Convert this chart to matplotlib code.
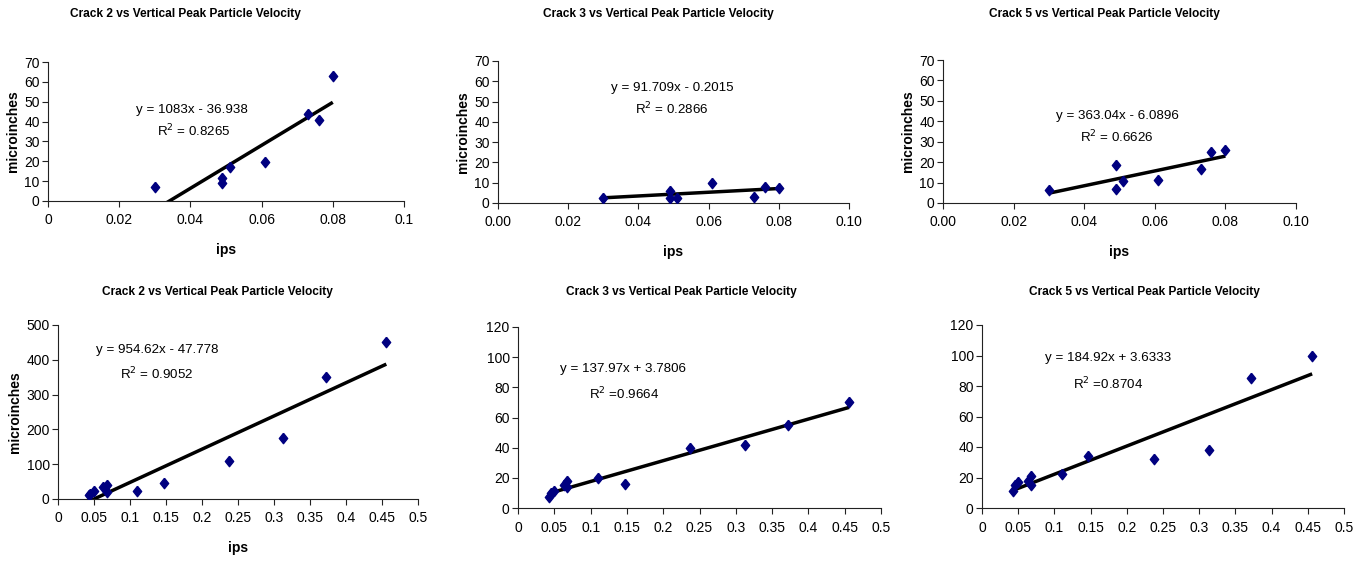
import numpy as np
import matplotlib
matplotlib.use("Agg")
import matplotlib.pyplot as plt
from matplotlib.ticker import FormatStrFormatter

plt.rcParams['font.family'] = ['Liberation Sans', 'DejaVu Sans']

W, H = 1371, 564

# --- data ---
ppv_small = [0.030, 0.049, 0.049, 0.051, 0.061, 0.073, 0.076, 0.080]
crack2_small = [7, 9, 11.5, 17, 19.5, 44, 41, 63]
crack3_small = [2.5, 6, 2.5, 2.5, 10, 3, 8, 7.5]
crack5_small = [6.5, 18.5, 7, 11, 11.5, 16.5, 25, 26]

ppv_large = [0.043, 0.045, 0.050, 0.063, 0.068, 0.068, 0.110, 0.147,
             0.237, 0.313, 0.372, 0.456]
crack2_large = [12, 15, 22, 35, 40, 20, 23, 47, 110, 175, 350, 450]
crack3_large = [7, 10, 11, 15, 18, 14, 20, 16, 40, 42, 55, 70]
crack5_large = [11, 15, 17, 18, 21, 15, 22, 34, 32, 38, 85, 100]

titles = ["Crack 2 vs Vertical Peak Particle Velocity",
          "Crack 3 vs Vertical Peak Particle Velocity",
          "Crack 5 vs Vertical Peak Particle Velocity"] * 2
slopes = [1083, 91.709, 363.04, 954.62, 137.97, 184.92]
intercepts = [-36.938, -0.2015, -6.0896, -47.778, 3.7806, 3.6333]
equations = ["y = 1083x - 36.938", "y = 91.709x - 0.2015", "y = 363.04x - 6.0896",
             "y = 954.62x - 47.778", "y = 137.97x + 3.7806", "y = 184.92x + 3.6333"]
r_squared = ["R$^2$ = 0.8265", "R$^2$ = 0.2866", "R$^2$ = 0.6626",
             "R$^2$ = 0.9052", "R$^2$ =0.9664", "R$^2$ =0.8704"]

panels = [
    (ppv_small, crack2_small), (ppv_small, crack3_small), (ppv_small, crack5_small),
    (ppv_large, crack2_large), (ppv_large, crack3_large), (ppv_large, crack5_large),
]

# layout in pixels: left, right, top, bottom of each plot area
boxes = [(48, 404, 62, 201), (498, 849, 61, 203), (943, 1296, 60, 203),
         (58, 418, 325, 499), (518, 881, 327, 508), (982, 1344, 325, 508)]
title_pos = [(185, 14), (658, 14), (1104, 14), (217, 292), (681, 292), (1144, 292)]
eq_pos = [(192, 110), (672, 88), (1117, 116), (157, 350), (623, 369), (1108, 358)]
r2_pos = [(194, 131), (672, 109), (1117, 137), (157, 374), (624, 394), (1108, 384)]
ylims = [70, 70, 70, 500, 120, 120]
ysteps = [10, 10, 10, 100, 20, 20]
xlims = [0.1, 0.1, 0.1, 0.5, 0.5, 0.5]
xsteps = [0.02, 0.02, 0.02, 0.05, 0.05, 0.05]
xfmt = [None, '%.2f', '%.2f', None, None, None]

diamond = [(0, 1), (0.8, 0), (0, -1), (-0.8, 0), (0, 1)]

fig = plt.figure(figsize=(W / 100, H / 100), dpi=100)

for i, (xs, ys) in enumerate(panels):
    l, r, t, b = boxes[i]
    ax = fig.add_axes([l / W, 1 - b / H, (r - l) / W, (b - t) / H])
    ax.plot(xs, ys, linestyle='none', marker=diamond, markersize=7.5,
            color='#000080', zorder=3)
    xline = np.array([min(xs), max(xs)])
    ax.plot(xline, slopes[i] * xline + intercepts[i], color='black',
            linewidth=2.5, zorder=2, solid_capstyle='butt')
    ax.set_xlim(0, xlims[i])
    ax.set_ylim(0, ylims[i])
    xt = np.arange(0, xlims[i] + 1e-9, xsteps[i]).round(2)
    ax.set_xticks(xt)
    ax.set_yticks(np.arange(0, ylims[i] + 1e-9, ysteps[i]))
    if xfmt[i]:
        ax.xaxis.set_major_formatter(FormatStrFormatter(xfmt[i]))
    else:
        ax.set_xticklabels(['%g' % v for v in xt])
    for side in ['top', 'right']:
        ax.spines[side].set_visible(False)
    for side in ['left', 'bottom']:
        ax.spines[side].set_linewidth(0.8)
        ax.spines[side].set_color('#222222')
    ax.tick_params(direction='out', length=4, width=0.8, labelsize=10,
                   colors='#222222', labelcolor='black')
    ax.tick_params(axis='y', pad=2)
    ax.tick_params(axis='x', pad=5)
    if i < 4:
        ax.set_ylabel('microinches', fontsize=10, fontweight='bold', labelpad=3)
        ax.set_xlabel('ips', fontsize=10, fontweight='bold', labelpad=11)
    ax.set_facecolor('none')

    fig.text(title_pos[i][0] / W, 1 - title_pos[i][1] / H, titles[i],
             ha='center', va='center', fontsize=8.6, fontweight='bold')
    fig.text(eq_pos[i][0] / W, 1 - eq_pos[i][1] / H, equations[i],
             ha='center', va='center', fontsize=9.6)
    fig.text(r2_pos[i][0] / W, 1 - r2_pos[i][1] / H, r_squared[i],
             ha='center', va='center', fontsize=9.6)

fig.savefig('out.png', dpi=100)
